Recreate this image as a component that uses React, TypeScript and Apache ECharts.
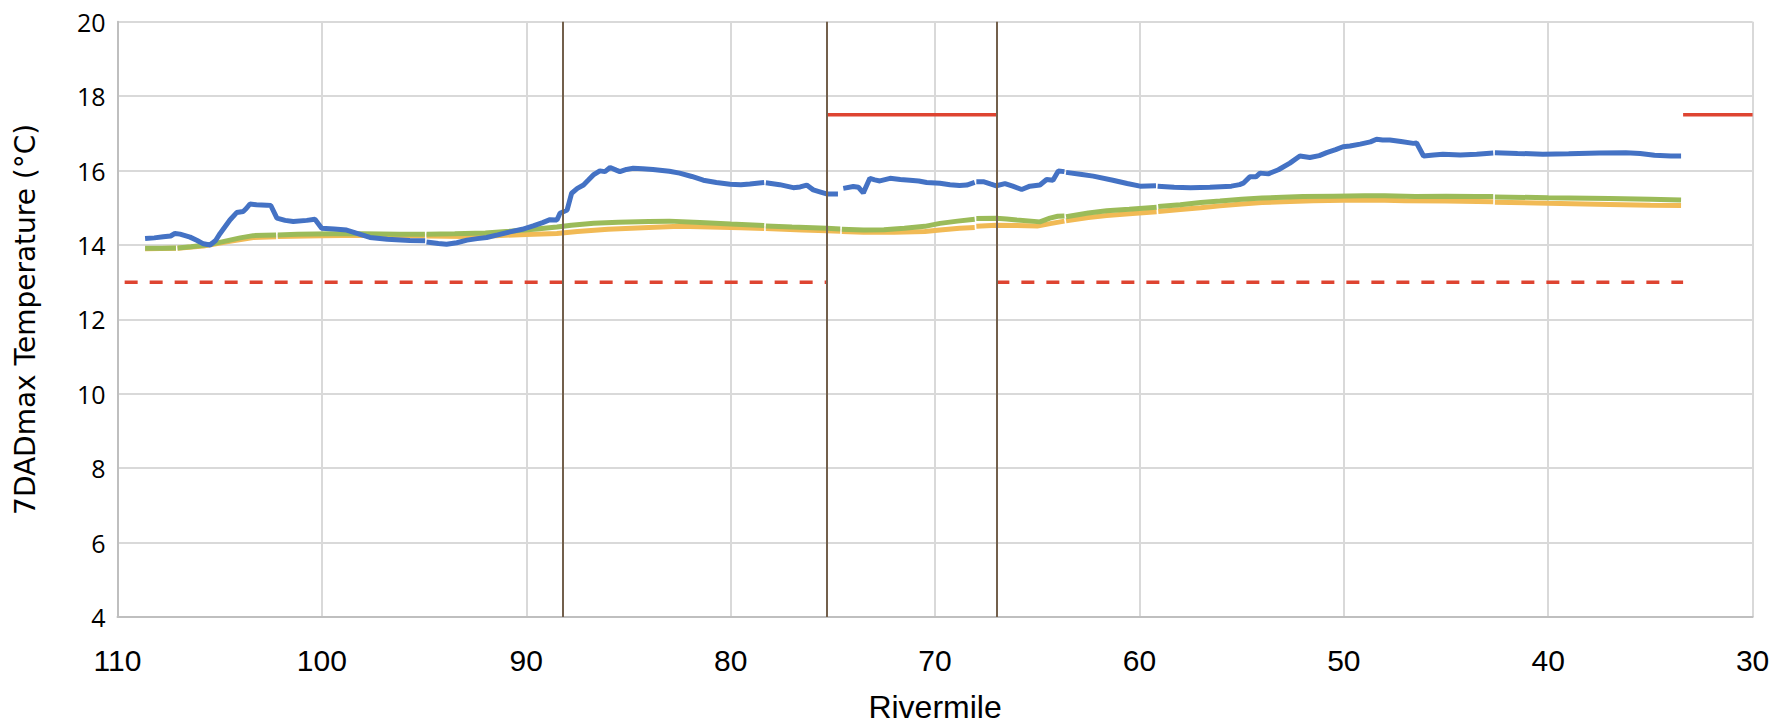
import React, { useEffect, useRef } from "react";
import * as echarts from "echarts";

// Rivermile (x) vs 7DADmax temperature (y); null marks a break between reaches
const blueSeries: [number, number | null][] = [
  [108.65, 14.17], [108.2, 14.19], [107.76, 14.22], [107.4, 14.24], [107.19, 14.31], [106.94, 14.29],
  [106.45, 14.21], [106.1, 14.12], [105.8, 14.03], [105.47, 14.0], [105.2, 14.12], [104.98, 14.31],
  [104.5, 14.67], [104.17, 14.87], [103.85, 14.9], [103.7, 14.98], [103.52, 15.1], [103.2, 15.08],
  [102.7, 15.07], [102.5, 15.06], [102.2, 14.72], [101.8, 14.66], [101.4, 14.63], [100.74, 14.66],
  [100.34, 14.69], [100.01, 14.45], [99.4, 14.43], [98.79, 14.4], [98.2, 14.3], [97.65, 14.2],
  [96.8, 14.15], [95.7, 14.12], [94.95, 14.11], [94.92, null], [94.88, 14.08], [94.3, 14.04],
  [93.9, 14.02], [93.4, 14.06], [92.9, 14.13], [92.4, 14.17], [91.94, 14.2], [91.4, 14.27],
  [90.8, 14.35], [90.2, 14.42], [89.66, 14.51], [89.2, 14.6], [88.84, 14.68], [88.5, 14.67],
  [88.35, 14.85], [88.0, 14.94], [87.78, 15.39], [87.5, 15.52], [87.2, 15.61], [86.95, 15.75],
  [86.72, 15.88], [86.4, 15.99], [86.15, 15.97], [85.9, 16.08], [85.6, 16.01], [85.42, 15.97],
  [85.1, 16.03], [84.77, 16.06], [84.3, 16.05], [83.8, 16.03], [83.46, 16.01], [83.0, 15.98],
  [82.5, 15.93], [81.9, 15.84], [81.34, 15.74], [80.7, 15.68], [80.03, 15.63], [79.5, 15.62],
  [79.06, 15.64], [78.36, 15.68], [78.32, null], [78.28, 15.67], [77.6, 15.62], [76.94, 15.54],
  [76.6, 15.56], [76.28, 15.61], [75.96, 15.48], [75.6, 15.42], [75.3, 15.37], [74.75, 15.37],
  [74.6, null], [74.49, 15.52], [74.0, 15.57], [73.75, 15.55], [73.51, 15.4], [73.19, 15.79],
  [72.95, 15.75], [72.7, 15.72], [72.2, 15.79], [71.7, 15.76], [71.23, 15.74], [70.8, 15.72],
  [70.41, 15.68], [69.76, 15.66], [69.27, 15.62], [68.8, 15.6], [68.45, 15.61], [68.06, 15.68],
  [68.02, null], [67.98, 15.7], [67.64, 15.7], [67.3, 15.64], [67.0, 15.59], [66.58, 15.65],
  [66.2, 15.58], [65.76, 15.49], [65.36, 15.58], [64.87, 15.61], [64.54, 15.76], [64.23, 15.74],
  [63.97, 15.99], [63.67, 15.97], [63.63, null], [63.59, 15.95], [62.9, 15.9], [62.26, 15.85],
  [61.3, 15.74], [60.6, 15.65], [59.97, 15.58], [59.19, 15.59], [59.15, null], [59.11, 15.58],
  [58.3, 15.55], [57.5, 15.54], [56.55, 15.55], [55.5, 15.58], [55.1, 15.62], [54.92, 15.66],
  [54.6, 15.83], [54.3, 15.83], [54.1, 15.93], [53.7, 15.91], [53.2, 16.02], [52.64, 16.2],
  [52.15, 16.39], [51.66, 16.35], [51.2, 16.4], [50.84, 16.48], [50.4, 16.56], [50.04, 16.64],
  [49.7, 16.66], [49.2, 16.71], [48.7, 16.77], [48.4, 16.84], [48.1, 16.82], [47.75, 16.82],
  [47.2, 16.78], [46.6, 16.73], [46.44, 16.74], [46.1, 16.39], [45.6, 16.42], [45.15, 16.44],
  [44.3, 16.42], [43.5, 16.44], [42.69, 16.47], [42.65, null], [42.61, 16.48], [41.5, 16.46],
  [40.26, 16.44], [39.0, 16.45], [37.5, 16.47], [36.2, 16.48], [35.5, 16.46], [34.8, 16.41],
  [34.0, 16.39], [33.5, 16.39],
];

const greenSeries: [number, number | null][] = [
  [108.65, 13.91], [107.8, 13.91], [107.14, 13.92], [107.1, null], [107.06, 13.92], [106.4, 13.95],
  [105.8, 13.99], [105.47, 14.02], [105.0, 14.07], [104.5, 14.13], [104.0, 14.19], [103.36, 14.25],
  [102.8, 14.26], [102.24, 14.27], [102.2, null], [102.16, 14.27], [101.2, 14.29], [99.5, 14.3],
  [98.0, 14.3], [96.2, 14.29], [94.96, 14.29], [94.92, null], [94.88, 14.29], [93.5, 14.3],
  [92.0, 14.32], [90.8, 14.37], [89.5, 14.43], [88.5, 14.48], [87.8, 14.53], [86.7, 14.58],
  [85.5, 14.61], [84.0, 14.63], [83.0, 14.64], [81.5, 14.6], [80.0, 14.56], [78.36, 14.52],
  [78.32, null], [78.28, 14.51], [77.0, 14.48], [75.3, 14.45], [74.64, 14.43], [74.6, null],
  [74.56, 14.42], [73.5, 14.4], [72.5, 14.41], [71.5, 14.45], [70.5, 14.5], [69.76, 14.58],
  [68.9, 14.64], [68.06, 14.69], [68.02, null], [67.98, 14.71], [67.0, 14.72], [66.5, 14.7],
  [66.0, 14.67], [65.3, 14.64], [64.87, 14.62], [64.38, 14.72], [64.0, 14.77], [63.67, 14.78],
  [63.63, null], [63.59, 14.76], [62.5, 14.86], [61.6, 14.92], [60.5, 14.96], [59.16, 15.01],
  [59.12, null], [59.08, 15.03], [58.0, 15.08], [57.0, 15.14], [56.06, 15.18], [55.0, 15.23],
  [54.0, 15.26], [53.0, 15.28], [52.0, 15.3], [50.5, 15.31], [49.0, 15.32], [48.0, 15.32],
  [46.5, 15.3], [45.0, 15.31], [43.5, 15.3], [42.69, 15.3], [42.65, null], [42.61, 15.29],
  [40.0, 15.27], [37.0, 15.25], [35.0, 15.23], [33.5, 15.21],
];

const orangeSeries: [number, number | null][] = [
  [108.65, 13.9], [107.14, 13.91], [107.1, null], [107.06, 13.91], [105.8, 13.97], [104.5, 14.1],
  [103.36, 14.2], [102.24, 14.22], [102.2, null], [102.16, 14.23], [100.0, 14.25], [98.0, 14.26],
  [94.96, 14.24], [94.92, null], [94.88, 14.24], [93.0, 14.23], [91.5, 14.25], [90.0, 14.28],
  [88.5, 14.31], [87.5, 14.36], [86.0, 14.42], [84.0, 14.47], [82.5, 14.5], [81.0, 14.48],
  [79.5, 14.46], [78.36, 14.44], [78.32, null], [78.28, 14.44], [76.5, 14.4], [75.3, 14.38],
  [74.64, 14.37], [74.6, null], [74.56, 14.36], [73.5, 14.34], [72.0, 14.34], [70.5, 14.36],
  [69.76, 14.4], [68.8, 14.45], [68.06, 14.47], [68.02, null], [67.98, 14.5], [67.0, 14.53],
  [66.0, 14.52], [65.0, 14.51], [64.3, 14.58], [63.67, 14.64], [63.63, null], [63.59, 14.65],
  [62.5, 14.74], [61.6, 14.79], [60.5, 14.84], [59.16, 14.89], [59.12, null], [59.08, 14.9],
  [58.0, 14.95], [57.0, 15.0], [56.06, 15.05], [55.0, 15.1], [54.0, 15.14], [53.0, 15.16],
  [51.5, 15.19], [50.0, 15.2], [48.5, 15.21], [47.0, 15.19], [45.0, 15.18], [42.69, 15.16],
  [42.65, null], [42.61, 15.15], [40.0, 15.12], [37.0, 15.09], [35.0, 15.07], [33.5, 15.06],
];

// Temperature criteria: 13 °C (dashed) and 17.5 °C (solid)
const criterion13: [number, number | null][] = [
  [109.65, 13], [75.3, 13], [71, null], [67.0, 13], [33.4, 13],
];
const criterion175: [number, number | null][] = [
  [75.3, 17.5], [67.0, 17.5], [50, null], [33.4, 17.5], [30, 17.5],
];

// Reach boundaries (rivermile)
const boundaries: number[] = [88.2, 75.3, 67.0];

const X_MIN = 30, X_MAX = 110, X_STEP = 10;
const Y_MIN = 4, Y_MAX = 20, Y_STEP = 2;

export default function App() {
  const ref = useRef<HTMLDivElement>(null);
  useEffect(() => {
    if (!ref.current) return;
    const chart = echarts.init(ref.current, undefined, { renderer: "svg" });
    const narrow = "'Liberation Sans Narrow', 'Liberation Sans', sans-serif";
    const lineSeries = (name: string, data: any, color: string, width: number, type: any = "solid") => ({
      type: "line",
      name,
      data,
      showSymbol: false,
      symbol: "none",
      connectNulls: false,
      lineStyle: { color, width, type },
    });
    chart.setOption({
      animation: false,
      grid: { left: 117.5, right: 35.4, top: 21.7, bottom: 107, containLabel: false, outerBoundsMode: "none" },
      xAxis: {
        type: "value",
        min: X_MIN,
        max: X_MAX,
        interval: X_STEP,
        inverse: true,
        axisLine: { show: true, onZero: false, lineStyle: { color: "#BFBFBF", width: 2 } },
        axisTick: { show: false },
        splitLine: { show: true, lineStyle: { color: "#D9D9D9", width: 2 } },
        axisLabel: { fontFamily: narrow, fontSize: 30, color: "#000", margin: 28 },
        name: "Rivermile",
        nameLocation: "middle",
        nameGap: 74,
        nameTextStyle: { fontFamily: narrow, fontSize: 32, lineHeight: 32, color: "#000" },
      },
      yAxis: {
        type: "value",
        min: Y_MIN,
        max: Y_MAX,
        interval: Y_STEP,
        axisLine: { show: true, onZero: false, lineStyle: { color: "#BFBFBF", width: 2 } },
        axisTick: { show: false },
        splitLine: { show: true, lineStyle: { color: "#D9D9D9", width: 2 } },
        axisLabel: { fontFamily: "'Open Sans', sans-serif", fontSize: 25, color: "#000", margin: 12 },
        name: "7DADmax Temperature (°C)",
        nameLocation: "middle",
        nameGap: 78,
        nameRotate: 90,
        nameTextStyle: { fontFamily: "'DejaVu Sans', sans-serif", fontSize: 28, color: "#000" },
      },
      series: [
        {
          type: "line",
          name: "Boundaries",
          data: [],
          silent: true,
          markLine: {
            silent: true,
            symbol: "none",
            label: { show: false },
            lineStyle: { color: "#73604C", width: 2, type: "solid" },
            data: boundaries.map((b) => ({ xAxis: b })),
          },
        },
        lineSeries("13 °C criterion", criterion13, "#DE4431", 3.5, [13, 12]),
        lineSeries("17.5 °C criterion", criterion175, "#DE4431", 3.5),
        lineSeries("Orange", orangeSeries, "#F1BA55", 5),
        lineSeries("Green", greenSeries, "#9BBB59", 5),
        lineSeries("Blue", blueSeries, "#4472C4", 5),
      ],
    });
    return () => chart.dispose();
  }, []);
  return <div ref={ref} style={{ width: 1788, height: 724, position: "absolute", left: 0, top: 0 }} />;
}
